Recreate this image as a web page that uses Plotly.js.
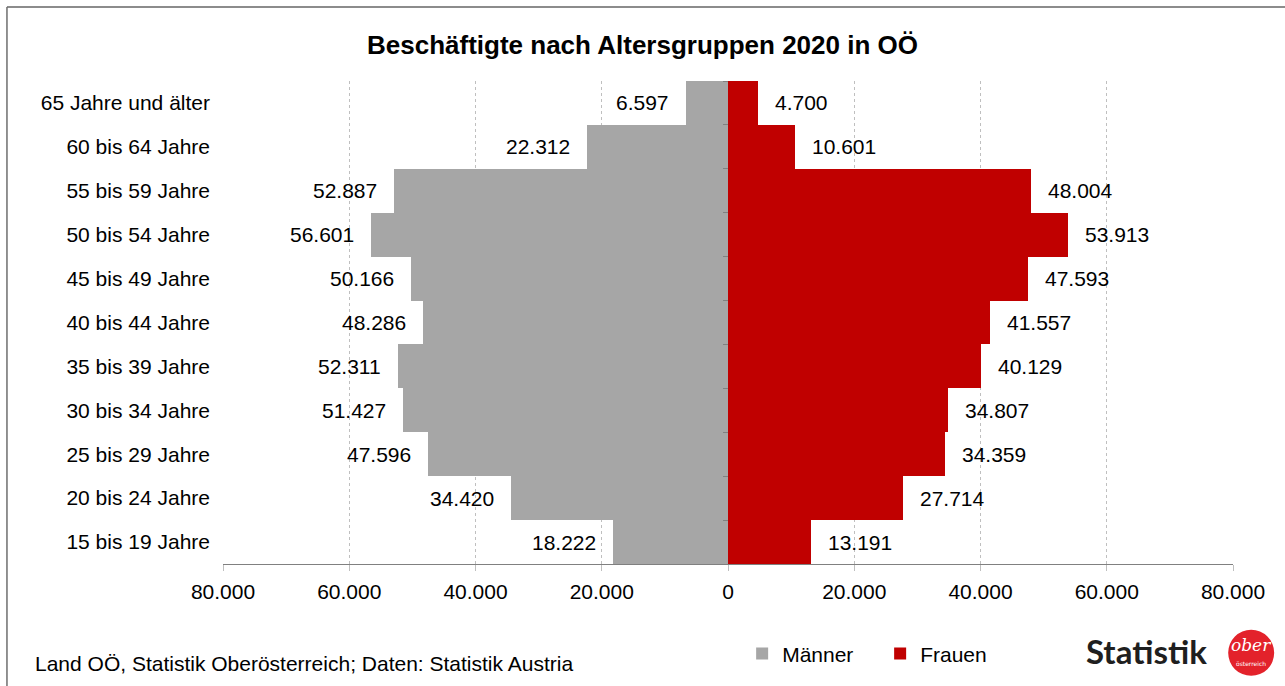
<!DOCTYPE html>
<html>
<head>
<meta charset="utf-8">
<script src="https://cdn.plot.ly/plotly-3.0.1.min.js"></script>
<style>
  body { margin: 0; background: #fff; }
  #chart { width: 1285px; height: 686px; }
</style>
</head>
<body>
<div id="chart"></div>
<script>
// Altersgruppen von unten nach oben
var groups = ["15 bis 19 Jahre", "20 bis 24 Jahre", "25 bis 29 Jahre", "30 bis 34 Jahre",
  "35 bis 39 Jahre", "40 bis 44 Jahre", "45 bis 49 Jahre", "50 bis 54 Jahre",
  "55 bis 59 Jahre", "60 bis 64 Jahre", "65 Jahre und älter"];
var maenner = [18222, 34420, 47596, 51427, 52311, 48286, 50166, 56601, 52887, 22312, 6597];
var frauen = [13191, 27714, 34359, 34807, 40129, 41557, 47593, 53913, 48004, 10601, 4700];
var tickValues = [-80000, -60000, -40000, -20000, 0, 20000, 40000, 60000, 80000];

var font = "Liberation Sans, Arial, sans-serif";

function fmt(v) {
  return Math.abs(v).toString().replace(/\B(?=(\d{3})+(?!\d))/g, ".");
}

var traceM = {
  y: groups,
  x: maenner.map(v => -v),
  name: "Männer",
  type: "bar",
  orientation: "h",
  marker: {color: "#a6a6a6", line: {width: 0}},
  hoverinfo: "skip"
};
var traceF = {
  y: groups,
  x: frauen,
  name: "Frauen",
  type: "bar",
  orientation: "h",
  marker: {color: "#c00000", line: {width: 0}},
  hoverinfo: "skip"
};
// unsichtbare Spur, damit die Achse mit den Strichen an der Nulllinie gezeichnet wird
var traceTicks = {
  y: groups,
  x: groups.map(g => 0),
  yaxis: "y2",
  type: "scatter",
  mode: "markers",
  marker: {opacity: 0},
  showlegend: false,
  hoverinfo: "skip"
};
var data = [traceM, traceF, traceTicks];

// Datenbeschriftungen
var labels = [];
groups.forEach(function(g, i) {
  labels.push({x: -maenner[i], y: g, text: fmt(maenner[i]), showarrow: false,
    xanchor: "right", xshift: -15, font: {family: font, size: 21, color: "#000"}});
  labels.push({x: frauen[i], y: g, text: fmt(frauen[i]), showarrow: false,
    xanchor: "left", xshift: 15, font: {family: font, size: 21, color: "#000"}});
});

labels.push({xref: "paper", yref: "paper", x: -0.188, y: -0.205, xanchor: "left", yanchor: "middle",
  text: "Land OÖ, Statistik Oberösterreich; Daten: Statistik Austria", showarrow: false,
  font: {family: font, size: 21, color: "#000"}});
labels.push({xref: "paper", yref: "paper", x: (1209 - 223) / 1010, y: -0.18, xanchor: "right", yanchor: "middle",
  text: "Statistik", showarrow: false,
  font: {family: "Lato, sans-serif", size: 33, color: "#1f1f1f", weight: "bold"}});
labels.push({xref: "paper", yref: "paper", x: 1.018, y: -0.168, xanchor: "center", yanchor: "middle",
  text: "ober", showarrow: false,
  font: {family: "DejaVu Serif, serif", size: 17, color: "#fff", style: "italic"}});
labels.push({xref: "paper", yref: "paper", x: 1.018, y: -0.207, xanchor: "center", yanchor: "middle",
  text: "österreich", showarrow: false,
  font: {family: "DejaVu Sans, sans-serif", size: 6, color: "#fff"}});

var layout = {
  width: 1285,
  height: 686,
  margin: {l: 223, r: 52, t: 81, b: 122},
  paper_bgcolor: "#fff",
  plot_bgcolor: "#fff",
  font: {family: font, size: 21, color: "#000"},
  title: {
    text: "Beschäftigte nach Altersgruppen 2020 in OÖ",
    x: 0.5, xref: "container", xanchor: "center",
    y: 1 - 45 / 686, yref: "container", yanchor: "middle",
    font: {family: font, size: 26, color: "#000", weight: "bold"}
  },
  barmode: "relative",
  bargap: 0,
  xaxis: {
    range: [-80000, 80000],
    tickvals: tickValues,
    ticktext: tickValues.map(fmt),
    showgrid: true,
    gridcolor: "#bfbfbf",
    griddash: "dot",
    gridwidth: 1,
    zeroline: true,
    zerolinecolor: "#808080",
    zerolinewidth: 1,
    showline: true,
    linecolor: "#808080",
    linewidth: 1,
    ticks: "outside",
    ticklen: 6,
    tickcolor: "#bfbfbf",
    ticklabelstandoff: 3,
    tickfont: {family: font, size: 21, color: "#000"},
    fixedrange: true
  },
  yaxis: {
    type: "category",
    categoryorder: "array",
    categoryarray: groups,
    range: [-0.5, 10.5],
    showgrid: false,
    showline: false,
    zeroline: false,
    ticks: "",
    ticklabelstandoff: 12,
    tickfont: {family: font, size: 21, color: "#000"},
    fixedrange: true
  },
  yaxis2: {
    type: "category",
    categoryorder: "array",
    categoryarray: groups,
    range: [-0.5, 10.5],
    overlaying: "y",
    anchor: "free",
    position: 0.5,
    side: "left",
    showgrid: false,
    showline: false,
    zeroline: false,
    showticklabels: false,
    ticks: "outside",
    tickson: "boundaries",
    ticklen: 5,
    tickcolor: "#808080",
    fixedrange: true
  },
  showlegend: true,
  legend: {
    orientation: "h",
    x: 0.514, xanchor: "left",
    y: -0.186, yanchor: "middle",
    font: {family: font, size: 21, color: "#000"},
    itemwidth: 30,
    entrywidth: 93,
    bgcolor: "rgba(0,0,0,0)"
  },
  shapes: [
    // Rahmen oben und links
    {type: "line", xref: "paper", yref: "paper", x0: -0.2139, x1: 1.06, y0: 1.1532, y1: 1.1532,
      line: {color: "#8c8c8c", width: 2}},
    {type: "line", xref: "paper", yref: "paper", x0: -0.2139, x1: -0.2139, y0: 1.1532, y1: -0.27,
      line: {color: "#6e6e6e", width: 1.5}},
    // Logo-Kreis
    {type: "circle", xref: "paper", yref: "paper",
      x0: 1.018 - 23 / 1010, x1: 1.018 + 23 / 1010, y0: -0.184 - 23 / 483, y1: -0.184 + 23 / 483,
      fillcolor: "#e3222b", line: {width: 0}}
  ],
  annotations: labels
};

Plotly.newPlot("chart", data, layout, {displayModeBar: false, staticPlot: true});
</script>
</body>
</html>
